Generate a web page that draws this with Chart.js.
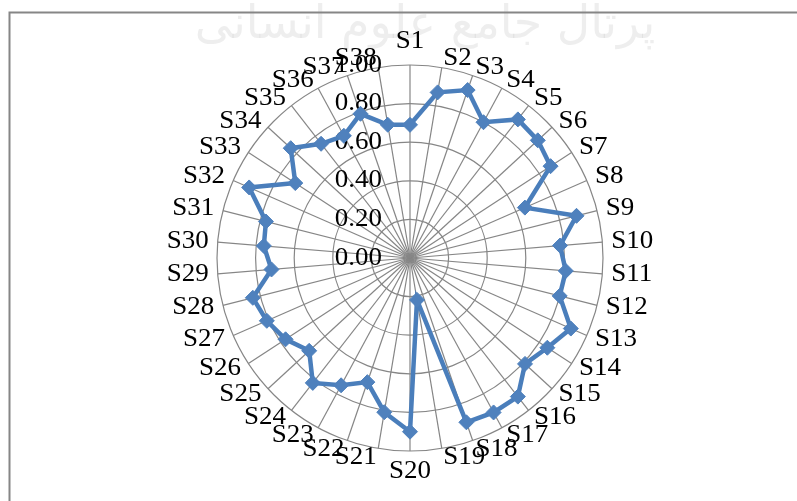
<!DOCTYPE html>
<html>
<head>
<meta charset="utf-8">
<script src="https://cdn.jsdelivr.net/npm/chart.js@4.4.0/dist/chart.umd.min.js"></script>
<style>
  html, body { margin: 0; padding: 0; background: #ffffff; }
  #box { position: relative; width: 797px; height: 501px; }
</style>
</head>
<body>
<div id="box"><canvas id="radar" width="797" height="501"></canvas></div>
<script>
// categories (spokes), clockwise from the top
const labels = ['S1', 'S2', 'S3', 'S4', 'S5', 'S6', 'S7', 'S8', 'S9', 'S10',
  'S11', 'S12', 'S13', 'S14', 'S15', 'S16', 'S17', 'S18', 'S19', 'S20',
  'S21', 'S22', 'S23', 'S24', 'S25', 'S26', 'S27', 'S28', 'S29', 'S30',
  'S31', 'S32', 'S33', 'S34', 'S35', 'S36', 'S37', 'S38'];

// series values
const values = [0.69, 0.87, 0.92, 0.80, 0.91, 0.90, 0.87, 0.65, 0.89, 0.78,
  0.81, 0.80, 0.91, 0.85, 0.81, 0.91, 0.91, 0.90, 0.22, 0.90,
  0.81, 0.68, 0.75, 0.82, 0.71, 0.77, 0.81, 0.84, 0.72, 0.76,
  0.77, 0.91, 0.71, 0.84, 0.75, 0.72, 0.79, 0.70];

// value axis
const axisMin = 0;
const axisMax = 1;
const axisStep = 0.2;

const gridGray = '#868686';
const labelFont = '25px "Liberation Serif", "Times New Roman", serif';
const stretchX = 1.08;

function drawText(ctx, text, x, y, align) {
  ctx.save();
  ctx.translate(x, y);
  ctx.scale(stretchX, 1);
  ctx.textAlign = align;
  ctx.fillText(text, 0, 0);
  ctx.restore();
}

// page frame + faint watermark
const framePlugin = {
  id: 'frame',
  beforeDraw(chart) {
    const ctx = chart.ctx;
    ctx.save();
    ctx.fillStyle = '#ffffff';
    ctx.fillRect(0, 0, chart.width, chart.height);
    ctx.fillStyle = 'rgba(120,120,120,0.13)';
    ctx.font = '46px "DejaVu Sans", sans-serif';
    ctx.textAlign = 'center';
    ctx.textBaseline = 'middle';
    ctx.direction = 'rtl';
    ctx.fillText('پرتال جامع علوم انسانی', 425, 26);
    ctx.strokeStyle = gridGray;
    ctx.lineWidth = 2;
    ctx.beginPath();
    ctx.moveTo(9.5, chart.height);
    ctx.lineTo(9.5, 12.5);
    ctx.lineTo(chart.width, 12.5);
    ctx.stroke();
    ctx.restore();
  }
};

// Excel style labels: value labels left of the first spoke, category labels round the rim
const labelPlugin = {
  id: 'excelLabels',
  beforeDatasetsDraw(chart) {
    const scale = chart.scales.r;
    const ctx = chart.ctx;
    ctx.save();
    ctx.font = labelFont;
    ctx.fillStyle = '#000000';
    ctx.textBaseline = 'middle';

    scale.ticks.forEach(t => {
      const d = scale.getDistanceFromCenterForValue(t.value);
      drawText(ctx, t.value.toFixed(2), scale.xCenter - 28, scale.yCenter - d, 'right');
    });

    chart.data.labels.forEach((lab, i) => {
      const pos = scale.getPointPosition(i, scale.drawingArea + 9);
      let deg = scale.getIndexAngle(i) * 180 / Math.PI;
      deg = ((deg % 360) + 360) % 360;
      if (deg < 0.5 || deg > 359.5) {
        drawText(ctx, lab, pos.x, pos.y - 14.5, 'center');
      } else if (Math.abs(deg - 180) < 0.5) {
        drawText(ctx, lab, pos.x, pos.y + 11, 'center');
      } else if (deg < 180) {
        drawText(ctx, lab, pos.x, pos.y, 'left');
      } else {
        drawText(ctx, lab, pos.x, pos.y, 'right');
      }
    });
    ctx.restore();
  }
};

new Chart(document.getElementById('radar').getContext('2d'), {
  type: 'radar',
  data: {
    labels: labels,
    datasets: [{
      label: 'Series1',
      data: values,
      borderColor: '#4a7ebb',
      borderWidth: 4.5,
      backgroundColor: '#4f81bd',
      fill: false,
      pointStyle: 'rectRot',
      pointRadius: 7.5,
      pointBorderWidth: 1,
      pointBackgroundColor: '#4f81bd',
      pointBorderColor: '#4f81bd',
      tension: 0
    }]
  },
  options: {
    responsive: false,
    animation: false,
    layout: {
      padding: { left: 217, right: 193, top: 65, bottom: 49 }
    },
    plugins: {
      legend: { display: false },
      tooltip: { enabled: false }
    },
    scales: {
      r: {
        min: axisMin,
        max: axisMax,
        beginAtZero: true,
        ticks: { stepSize: axisStep, display: false },
        grid: { circular: true, color: gridGray, lineWidth: 1.2 },
        angleLines: { color: gridGray, lineWidth: 1.2 },
        pointLabels: { display: false }
      }
    }
  },
  plugins: [framePlugin, labelPlugin]
});
</script>
</body>
</html>
